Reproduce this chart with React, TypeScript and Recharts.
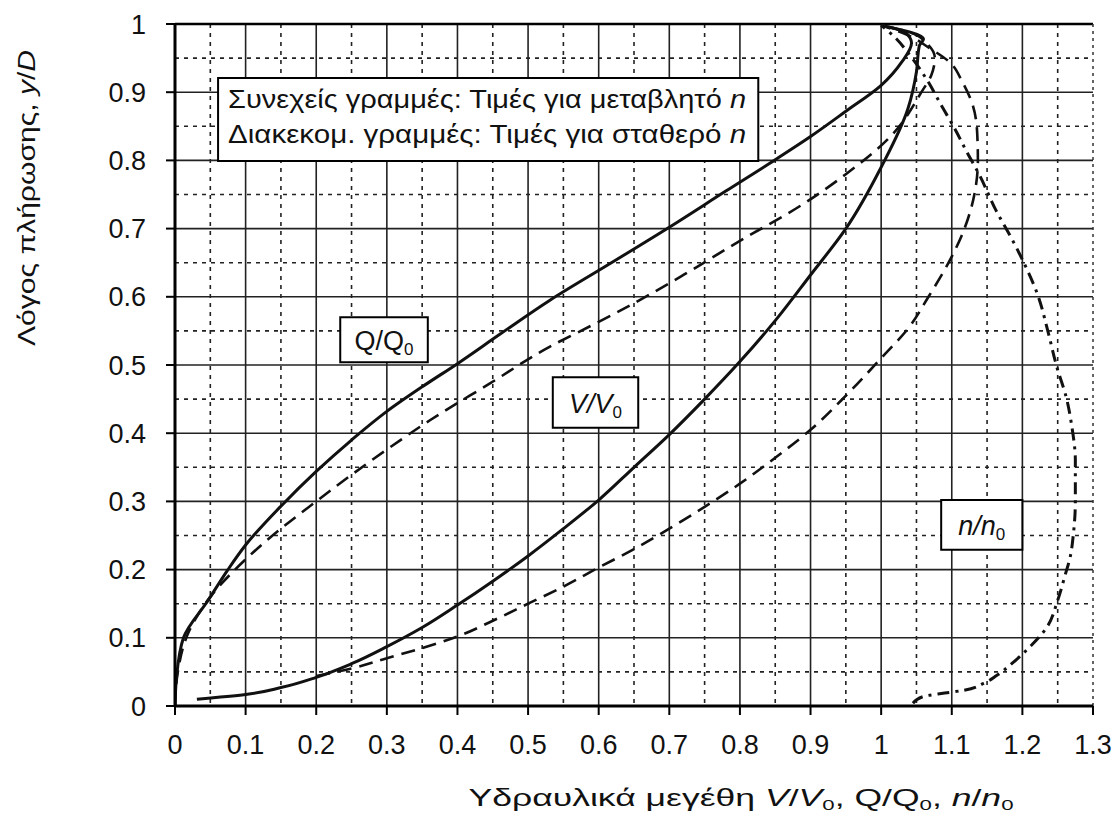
import React from "react";
import {
  LineChart,
  Line,
  XAxis,
  YAxis,
  CartesianGrid,
  ReferenceLine,
  ReferenceArea,
} from "recharts";

// tick labels and grid positions
const xTicks = [0, 0.1, 0.2, 0.3, 0.4, 0.5, 0.6, 0.7, 0.8, 0.9, 1, 1.1, 1.2, 1.3];
const yTicks = [0, 0.1, 0.2, 0.3, 0.4, 0.5, 0.6, 0.7, 0.8, 0.9, 1];
const xMajorGrid = [0.1, 0.2, 0.3, 0.4, 0.5, 0.6, 0.7, 0.8, 0.9, 1, 1.1, 1.2];
const yMajorGrid = [0.1, 0.2, 0.3, 0.4, 0.5, 0.6, 0.7, 0.8, 0.9];
const xMinorGrid = [0.05, 0.15, 0.25, 0.35, 0.45, 0.55, 0.65, 0.75, 0.85, 0.95, 1.05, 1.15, 1.25];
const yMinorGrid = [0.05, 0.15, 0.25, 0.35, 0.45, 0.55, 0.65, 0.75, 0.85, 0.95];

// [hydraulic ratio, y/D]
const qVariable = [
  [0, 0], [0.002, 0.04], [0.012, 0.1], [0.047, 0.155], [0.075, 0.2], [0.1, 0.236],
  [0.15, 0.293], [0.2, 0.344], [0.25, 0.39], [0.3, 0.432], [0.35, 0.468],
  [0.4, 0.502], [0.46, 0.545], [0.531, 0.595], [0.615, 0.648], [0.7, 0.702],
  [0.78, 0.755], [0.85, 0.801], [0.9, 0.835], [0.95, 0.872], [1.0, 0.91],
  [1.029, 0.944], [1.043, 0.972], [1.035, 0.987], [1.0, 0.998],
];
const qConstant = [
  [0, 0], [0.004, 0.05], [0.02, 0.11], [0.05, 0.16], [0.1, 0.215], [0.15, 0.26],
  [0.2, 0.3], [0.25, 0.339], [0.3, 0.376], [0.361, 0.419], [0.446, 0.473],
  [0.531, 0.527], [0.59, 0.558], [0.649, 0.59], [0.72, 0.632], [0.8, 0.682],
  [0.888, 0.735], [0.949, 0.779], [1.015, 0.837], [1.057, 0.9], [1.071, 0.925],
  [1.076, 0.95], [1.066, 0.97], [1.04, 0.988], [1.0, 0.998],
];
const vVariable = [
  [0.031, 0.01], [0.1, 0.017], [0.15, 0.027], [0.2, 0.042], [0.25, 0.062],
  [0.3, 0.087], [0.35, 0.115], [0.4, 0.148], [0.45, 0.183], [0.5, 0.22],
  [0.55, 0.26], [0.6, 0.302], [0.65, 0.35], [0.7, 0.398], [0.75, 0.45],
  [0.8, 0.505], [0.85, 0.565], [0.9, 0.632], [0.95, 0.7], [1.0, 0.79],
  [1.038, 0.876], [1.05, 0.93], [1.054, 0.968], [1.06, 0.978], [1.0, 0.998],
];
const vConstant = [
  [0.2, 0.044], [0.25, 0.055], [0.3, 0.07], [0.35, 0.085], [0.4, 0.102],
  [0.45, 0.125], [0.5, 0.15], [0.55, 0.175], [0.6, 0.203], [0.65, 0.23],
  [0.7, 0.26], [0.75, 0.292], [0.8, 0.326], [0.85, 0.364], [0.9, 0.405],
  [0.95, 0.455], [1.0, 0.51], [1.04, 0.556], [1.067, 0.6], [1.097, 0.653],
  [1.118, 0.7], [1.132, 0.75], [1.137, 0.8], [1.136, 0.84], [1.13, 0.88],
  [1.115, 0.915], [1.097, 0.944], [1.068, 0.965], [1.035, 0.985], [1.0, 0.998],
];
const nRatio = [
  [1.045, 0.004], [1.06, 0.014], [1.09, 0.019], [1.117, 0.023], [1.145, 0.033],
  [1.164, 0.045], [1.187, 0.064], [1.206, 0.082], [1.235, 0.116], [1.25, 0.155],
  [1.26, 0.19], [1.268, 0.22], [1.272, 0.25], [1.275, 0.3], [1.275, 0.36],
  [1.27, 0.41], [1.263, 0.449], [1.248, 0.5], [1.236, 0.55], [1.222, 0.602],
  [1.203, 0.648], [1.184, 0.687], [1.163, 0.726], [1.139, 0.779], [1.12, 0.815],
  [1.104, 0.847], [1.085, 0.881], [1.065, 0.918], [1.04, 0.955], [1.02, 0.98],
  [1.0, 0.998],
];

const toPoints = (pairs: number[][]) => pairs.map(([x, y]) => ({ x, y }));

const FONT = '"Liberation Sans", Arial, Helvetica, sans-serif';
const INK = "#111";

function NoteBox({ viewBox }: any) {
  const { x, y } = viewBox;
  return (
    <g fill={INK} fontSize={26} fontFamily={FONT}>
      <text x={x + 10} y={y + 30} textLength={518} lengthAdjust="spacingAndGlyphs">
        Συνεχείς γραμμές: Τιμές για μεταβλητό <tspan fontStyle="italic">n</tspan>
      </text>
      <text x={x + 10} y={y + 65} textLength={518} lengthAdjust="spacingAndGlyphs">
        Διακεκομ. γραμμές: Τιμές για σταθερό <tspan fontStyle="italic">n</tspan>
      </text>
    </g>
  );
}

function RatioBox({ viewBox, sym, italic }: any) {
  const cx = viewBox.x + viewBox.width / 2;
  const cy = viewBox.y + viewBox.height / 2;
  return (
    <text
      x={cx}
      y={cy + 10}
      textAnchor="middle"
      fontSize={27}
      fill={INK}
      fontFamily={FONT}
      fontStyle={italic ? "italic" : "normal"}
    >
      {sym}/{sym}
      <tspan fontSize={17} dy={5} fontStyle="normal">0</tspan>
    </text>
  );
}

function YTitle({ viewBox }: any) {
  const cx = viewBox.x - 88;
  const cy = viewBox.y + 174;
  return (
    <text
      x={cx}
      y={cy}
      transform={`rotate(-90 ${cx} ${cy})`}
      textAnchor="middle"
      dominantBaseline="central"
      fontSize={23}
      fill={INK}
      fontFamily={FONT}
      textLength={296}
      lengthAdjust="spacingAndGlyphs"
    >
      Λόγος πλήρωσης, <tspan fontStyle="italic">y</tspan>/<tspan fontStyle="italic">D</tspan>
    </text>
  );
}

function XTitle({ viewBox }: any) {
  const cx = viewBox.x + 566;
  const cy = viewBox.y + 100;
  return (
    <text
      x={cx}
      y={cy}
      textAnchor="middle"
      fontSize={24}
      fill={INK}
      fontFamily={FONT}
      textLength={545}
      lengthAdjust="spacingAndGlyphs"
    >
      Υδραυλικά μεγέθη <tspan fontStyle="italic">V</tspan>/<tspan fontStyle="italic">V</tspan>
      <tspan fontSize={15} dy={4}>0</tspan>
      <tspan dy={-4}>, Q/Q</tspan>
      <tspan fontSize={15} dy={4}>0</tspan>
      <tspan dy={-4}>, </tspan>
      <tspan fontStyle="italic">n</tspan>/<tspan fontStyle="italic">n</tspan>
      <tspan fontSize={15} dy={4}>0</tspan>
    </text>
  );
}

export default function App() {
  return (
    <div
      style={{
        position: "absolute",
        left: 0,
        top: 0,
        width: 1113,
        height: 827,
        background: "#fff",
        fontFamily: FONT,
        overflow: "hidden",
      }}
    >
      <LineChart
        width={1113}
        height={827}
        margin={{ top: 24, right: 20, bottom: 41, left: 115 }}
      >
        <CartesianGrid
          stroke="#222"
          strokeWidth={1.6}
          verticalValues={xMajorGrid}
          horizontalValues={yMajorGrid}
        />
        <CartesianGrid
          stroke="#222"
          strokeWidth={1.6}
          strokeDasharray="4 5"
          verticalValues={xMinorGrid}
          horizontalValues={yMinorGrid}
        />
        <XAxis
          type="number"
          dataKey="x"
          domain={[0, 1.3]}
          ticks={xTicks}
          interval={0}
          allowDataOverflow
          height={80}
          tickSize={9}
          tickMargin={20}
          tickFormatter={(v) => String(v)}
          axisLine={{ stroke: "#000", strokeWidth: 3 }}
          tickLine={{ stroke: "#000", strokeWidth: 2 }}
          tick={{ fontSize: 27, fill: INK }}
          label={(p: any) => <XTitle viewBox={p.viewBox} />}
        />
        <YAxis
          type="number"
          dataKey="y"
          domain={[0, 1]}
          ticks={yTicks}
          interval={0}
          allowDataOverflow
          width={60}
          tickSize={9}
          tickMargin={20}
          tickFormatter={(v) => String(v)}
          axisLine={{ stroke: "#000", strokeWidth: 3 }}
          tickLine={{ stroke: "#000", strokeWidth: 2 }}
          tick={{ fontSize: 27, fill: INK }}
          label={(p: any) => <YTitle viewBox={p.viewBox} />}
        />
        <ReferenceLine y={1} stroke="#000" strokeWidth={2.5} />
        <ReferenceLine x={1.3} stroke="#333" strokeWidth={1.5} strokeDasharray="3 4" />

        <ReferenceArea
          x1={0.061}
          x2={0.826}
          y1={0.799}
          y2={0.921}
          fill="#fff"
          fillOpacity={1}
          stroke="#000"
          strokeWidth={2}
          label={(p: any) => <NoteBox viewBox={p.viewBox} />}
        />
        <ReferenceArea
          x1={0.234}
          x2={0.358}
          y1={0.504}
          y2={0.57}
          fill="#fff"
          fillOpacity={1}
          stroke="#000"
          strokeWidth={2}
          label={(p: any) => <RatioBox viewBox={p.viewBox} sym="Q" />}
        />
        <ReferenceArea
          x1={0.535}
          x2={0.656}
          y1={0.408}
          y2={0.482}
          fill="#fff"
          fillOpacity={1}
          stroke="#000"
          strokeWidth={2}
          label={(p: any) => <RatioBox viewBox={p.viewBox} sym="V" italic />}
        />
        <ReferenceArea
          x1={1.085}
          x2={1.2}
          y1={0.229}
          y2={0.302}
          fill="#fff"
          fillOpacity={1}
          stroke="#000"
          strokeWidth={2}
          label={(p: any) => <RatioBox viewBox={p.viewBox} sym="n" italic />}
        />

        <Line
          data={toPoints(qVariable)}
          dataKey="y"
          type="monotoneY"
          stroke="#111"
          strokeWidth={3}
          dot={false}
          isAnimationActive={false}
        />
        <Line
          data={toPoints(vVariable)}
          dataKey="y"
          type="monotoneY"
          stroke="#111"
          strokeWidth={3}
          dot={false}
          isAnimationActive={false}
        />
        <Line
          data={toPoints(qConstant)}
          dataKey="y"
          type="monotoneY"
          stroke="#111"
          strokeWidth={2.6}
          strokeDasharray="14 8"
          dot={false}
          isAnimationActive={false}
        />
        <Line
          data={toPoints(vConstant)}
          dataKey="y"
          type="monotoneY"
          stroke="#111"
          strokeWidth={2.6}
          strokeDasharray="14 8"
          dot={false}
          isAnimationActive={false}
        />
        <Line
          data={toPoints(nRatio)}
          dataKey="y"
          type="monotoneY"
          stroke="#111"
          strokeWidth={3}
          strokeDasharray="12 6 3 6"
          dot={false}
          isAnimationActive={false}
        />
      </LineChart>
    </div>
  );
}
